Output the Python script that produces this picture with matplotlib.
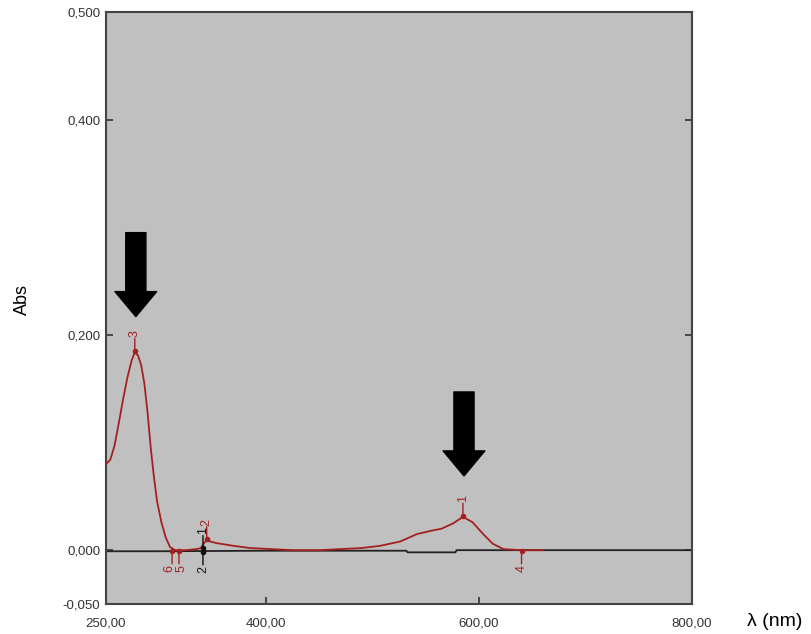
import numpy as np
import matplotlib.pyplot as plt

# =============================================
#                    DATOS
# =============================================

# Espectro rojo (muestra)
red_wl = [250, 254, 258, 262, 266, 270, 274, 277, 280, 283, 286, 289, 292, 295, 298,
          302, 306, 310, 315, 325, 335, 339, 341, 344, 348, 354, 370, 385, 405, 425,
          450, 470, 490, 507, 526, 542, 555, 565, 576, 585, 594, 604, 613, 623, 640, 660]
red_abs = [0.080, 0.084, 0.097, 0.118, 0.140, 0.160, 0.176, 0.184, 0.181, 0.172, 0.155,
           0.128, 0.095, 0.068, 0.045, 0.026, 0.012, 0.003, 0.000, 0.000, 0.001, 0.002,
           0.005, 0.009, 0.008, 0.0065, 0.004, 0.002, 0.001, 0.000, 0.000, 0.001, 0.002,
           0.004, 0.008, 0.015, 0.018, 0.020, 0.025, 0.031, 0.026, 0.015, 0.006, 0.001,
           0.000, 0.000]

# Línea base negra
black_wl = [250, 300, 400, 532, 533, 578, 579, 800]
black_abs = [-0.001, -0.001, -0.0005, -0.0005, -0.002, -0.002, 0.0, 0.0]

# Marcadores de picos: (lambda, abs, etiqueta, arriba/abajo, desplazamiento x)
red_marks = [(277, 0.184, "3", 1, 0), (585, 0.031, "1", 1, 0), (344.5, 0.009, "2", 1, 0),
             (640, 0.000, "4", -1, 0), (312, 0.000, "6", -1, -2), (318.5, 0.000, "5", -1, 2)]
black_marks = [(341, 0.001, "1", 1, 0), (341, -0.001, "2", -1, 0)]

# Flechas grandes
arrow_wl = [278, 586]
arrow_top = [0.295, 0.147]
arrow_tip = [0.217, 0.069]

yticks = [-0.05, 0.0, 0.2, 0.4, 0.5]
ytick_labels = ["-0,050", "0,000", "0,200", "0,400", "0,500"]
xticks = [250, 400, 600, 800]
xtick_labels = ["250,00", "400,00", "600,00", "800,00"]

red = '#a32020'

# =============================================
#                   GRÁFICO
# =============================================

plt.rcParams['font.family'] = ['Liberation Sans', 'DejaVu Sans']
fig = plt.figure(figsize=(8.11, 6.34), dpi=100)
ax = fig.add_axes([106/811, 1 - 604/634, 586/811, 592/634])
ax.set_facecolor('#c0c0c0')

ax.plot(black_wl, black_abs, color='#222222', lw=1.3, zorder=2)
ax.plot(red_wl, red_abs, color=red, lw=1.3, zorder=3)

def mark(x, y, lab, d, dx, c):
    ax.plot(x, y + d*0.001, 'o', color=c, ms=3, zorder=4)
    ax.annotate('', xy=(x, y + d*0.001), xytext=(0, d*9), textcoords='offset points',
                arrowprops=dict(arrowstyle='-', color=c, lw=1, shrinkA=0, shrinkB=0),
                zorder=4)
    ax.annotate(lab, xy=(x, y + d*0.001), xytext=(dx, d*10), textcoords='offset points',
                rotation=90, color=c, fontsize=9, ha='center',
                va='bottom' if d > 0 else 'top', zorder=4)

for x, y, lab, d, dx in red_marks:
    mark(x, y, lab, d, dx, red)
for x, y, lab, d, dx in black_marks:
    mark(x, y, lab, d, dx, '#111111')

for x, y0, y1 in zip(arrow_wl, arrow_top, arrow_tip):
    ax.annotate('', xy=(x, y1), xytext=(x, y0),
                arrowprops=dict(arrowstyle='simple,head_length=1.8,head_width=3.0,tail_width=1.45',
                                color='black', shrinkA=0, shrinkB=0))

ax.set_xlim(250, 800)
ax.set_ylim(-0.05, 0.5)
ax.set_xticks(xticks)
ax.set_xticklabels(xtick_labels)
ax.set_yticks(yticks)
ax.set_yticklabels(ytick_labels)
ax.tick_params(direction='in', length=5, width=1.2, color='#333333', labelsize=9.5,
               labelcolor='#333333', right=True, pad=4)
ax.tick_params(axis='x', pad=10)
for s in ax.spines.values():
    s.set_color('#444444')
    s.set_linewidth(1.5)

fig.text(22/811, 1 - 300/634, "Abs", rotation=90, fontsize=13, ha='center', va='center')
fig.text(775/811, 1 - 622/634, "λ (nm)", fontsize=14, ha='center', va='center')

fig.savefig('out.png', dpi=100)
